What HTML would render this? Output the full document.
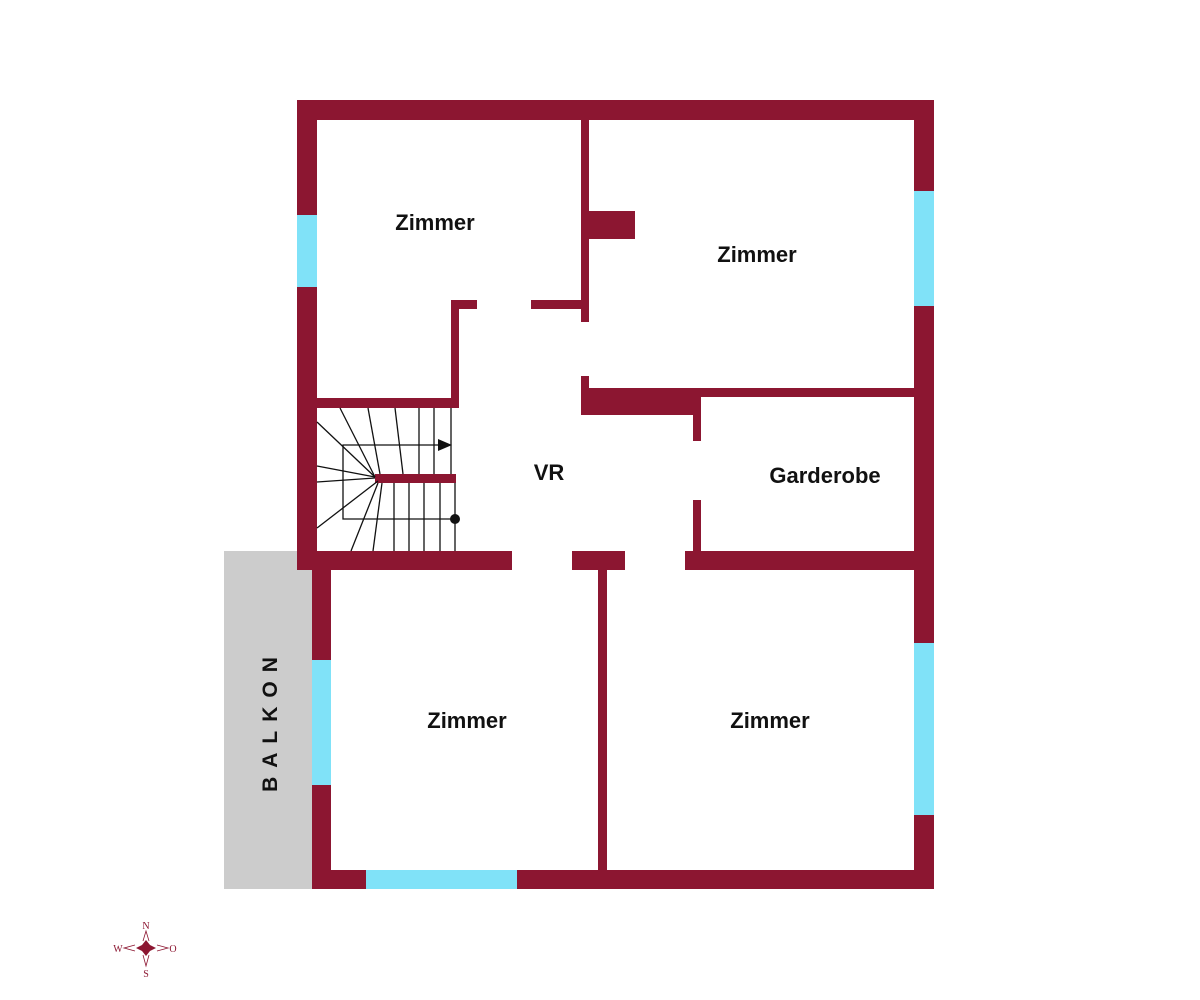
<!DOCTYPE html>
<html><head><style>
body{margin:0;background:#fff;width:1200px;height:1000px;overflow:hidden}
svg{display:block}
text{font-family:"Liberation Sans",sans-serif;font-weight:bold;fill:#111}
</style></head><body>
<svg width="1200" height="1000" viewBox="0 0 1200 1000">
<rect x="224" y="551" width="88" height="338" fill="#cccccc"/>
<text x="0" y="0" font-size="21" text-anchor="middle" letter-spacing="9" transform="translate(277,720) rotate(-90)" fill="#333">BALKON</text>
<g fill="#8c1631">
<rect x="297" y="100" width="637" height="20"/>
<rect x="297" y="100" width="20" height="470"/>
<rect x="914" y="100" width="20" height="789"/>
<rect x="312" y="551" width="19" height="338"/>
<rect x="312" y="870" width="622" height="19"/>
<rect x="297" y="551" width="215" height="19"/>
<rect x="572" y="551" width="53" height="19"/>
<rect x="685" y="551" width="249" height="19"/>
<rect x="598" y="570" width="9" height="300"/>
<rect x="581" y="120" width="8" height="202"/>
<rect x="589" y="211" width="46" height="28"/>
<rect x="531" y="300" width="50" height="9"/>
<rect x="451" y="300" width="26" height="9"/>
<rect x="451" y="300" width="8" height="108"/>
<rect x="317" y="398" width="142" height="10"/>
<rect x="581" y="376" width="8" height="39"/>
<rect x="581" y="388" width="119" height="27"/>
<rect x="589" y="388" width="325" height="9"/>
<rect x="693" y="397" width="8" height="44"/>
<rect x="693" y="500" width="8" height="51"/>
<rect x="375" y="474" width="81" height="9"/>
</g>
<g fill="#80e2f8">
<rect x="297" y="215" width="20" height="72"/>
<rect x="914" y="191" width="20" height="115"/>
<rect x="914" y="643" width="20" height="172"/>
<rect x="312" y="660" width="19" height="125"/>
<rect x="366" y="870" width="151" height="19"/>
</g>
<g stroke="#111" stroke-width="1.3" fill="none">
<line x1="419" y1="408" x2="419" y2="474"/>
<line x1="434" y1="408" x2="434" y2="474"/>
<line x1="451" y1="408" x2="451" y2="474"/>
<line x1="340" y1="408" x2="375" y2="477"/>
<line x1="368" y1="408" x2="380" y2="474"/>
<line x1="395" y1="408" x2="403" y2="474"/>
<line x1="317" y1="422" x2="375" y2="477"/>
<line x1="317" y1="466" x2="375" y2="477"/>
<line x1="317" y1="482" x2="375" y2="478"/>
<line x1="317" y1="528" x2="378" y2="481"/>
<line x1="351" y1="551" x2="378" y2="483"/>
<line x1="373" y1="551" x2="382" y2="483"/>
<line x1="394" y1="483" x2="394" y2="551"/>
<line x1="409" y1="483" x2="409" y2="551"/>
<line x1="424" y1="483" x2="424" y2="551"/>
<line x1="440" y1="483" x2="440" y2="551"/>
<line x1="455" y1="483" x2="455" y2="551"/>
<polyline points="445,445 343,445 343,519 455,519"/>
</g>
<polygon points="438,439 452,445 438,451" fill="#111"/>
<circle cx="455" cy="519" r="5" fill="#111"/>
<g font-size="22" text-anchor="middle">
<text x="435" y="230">Zimmer</text>
<text x="757" y="262">Zimmer</text>
<text x="549" y="480">VR</text>
<text x="825" y="483">Garderobe</text>
<text x="467" y="728">Zimmer</text>
<text x="770" y="728">Zimmer</text>
</g>
<g font-family="Liberation Serif" >
<polygon points="146,940 150,945 156,948 150,951 146,956 142,951 136,948 142,945" fill="#8c1631"/>
<text x="146" y="929" font-size="10" text-anchor="middle" style="font-family:'Liberation Serif',serif;font-weight:normal;fill:#8c1631">N</text>
<text x="146" y="977" font-size="10" text-anchor="middle" style="font-family:'Liberation Serif',serif;font-weight:normal;fill:#8c1631">S</text>
<text x="118" y="952" font-size="10" text-anchor="middle" style="font-family:'Liberation Serif',serif;font-weight:normal;fill:#8c1631">W</text>
<text x="173" y="952" font-size="10" text-anchor="middle" style="font-family:'Liberation Serif',serif;font-weight:normal;fill:#8c1631">O</text>
<g stroke="#8c1631" stroke-width="0.8" fill="none">
<polyline points="143,941 146,931 149,941"/>
<polyline points="143,955 146,966 149,955"/>
<polyline points="135,945 124,948 135,951"/>
<polyline points="157,945 168,948 157,951"/>
</g>
</g>
</svg>
</body></html>
